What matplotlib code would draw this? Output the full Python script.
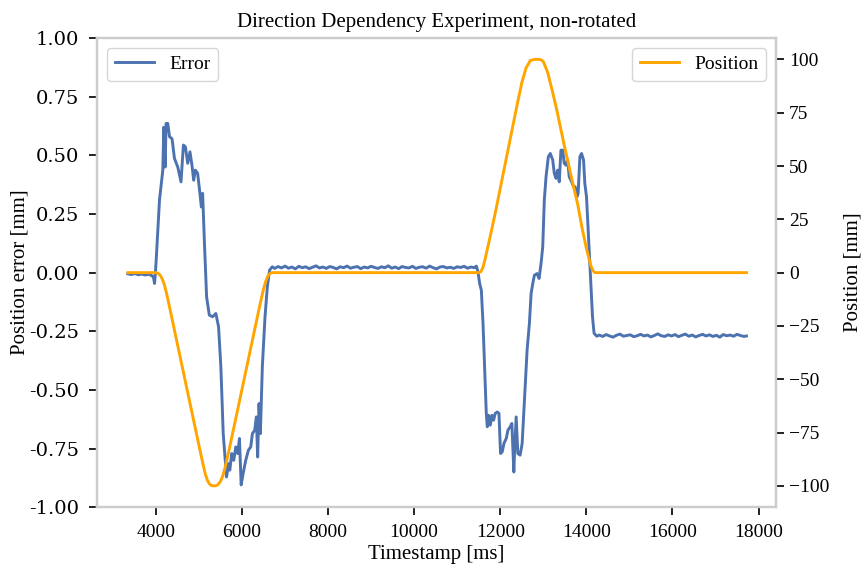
import matplotlib
matplotlib.use("Agg")
import matplotlib.pyplot as plt

# commanded position of the axis [mm]
pos_t = [3350, 3600, 3850, 4000, 4050, 4100, 4150, 4200, 4250, 4300,
         4400, 4500, 4600, 4700, 4800, 4900, 5000, 5100, 5150, 5200,
         5250, 5300, 5350, 5400, 5450, 5500, 5550, 5600, 5700, 5800,
         5900, 6000, 6100, 6200, 6300, 6400, 6450, 6500, 6550, 6600,
         6650, 6700, 7500, 9000, 10500, 11400, 11500, 11550, 11600, 11650,
         11700, 11800, 11900, 12000, 12100, 12200, 12300, 12400, 12500, 12600,
         12700, 12800, 12900, 12950, 13000, 13100, 13200, 13300, 13400, 13500,
         13600, 13700, 13800, 13900, 14000, 14100, 14150, 14200, 15500, 17720]
pos_mm = [0, 0, 0, 0, -0.3, -1.2, -3.0, -5.8, -9.8, -14.4,
          -23.9, -33.4, -42.9, -52.4, -61.9, -71.4, -80.9, -90.2, -94.5, -97.5,
          -99.2, -99.9, -100, -99.9, -99.3, -97.9, -95.6, -92.1, -83.3, -73.8,
          -64.3, -54.8, -45.3, -35.8, -26.3, -16.8, -12.2, -7.8, -4.2, -1.7,
          -0.4, 0, 0, 0, 0, 0, 0, 0.5, 2.5, 6.5,
          11.0, 20.0, 29.5, 39.5, 49.5, 59.5, 69.5, 79.5, 89.0, 96.0,
          99.5, 100, 100, 99.8, 99.0, 94.0, 86.0, 77.5, 68.0, 58.5,
          49.5, 40.5, 32.0, 21.0, 11.5, 3.5, 1.0, 0, 0, 0]

# measured position error [mm]
err_t = [3350, 3430, 3510, 3590, 3670, 3750, 3830, 3900, 3945, 3970,
         3990, 4007, 4085, 4162, 4185, 4215, 4238, 4277, 4317, 4377,
         4432, 4509, 4585, 4640, 4687, 4740, 4793, 4839, 4879, 4918,
         4971, 5024, 5057, 5087, 5126, 5179, 5242, 5318, 5394, 5457,
         5510, 5565, 5612, 5642, 5688, 5718, 5764, 5810, 5857, 5903,
         5942, 5982, 6028, 6088, 6150, 6204, 6243, 6296, 6335, 6365,
         6397, 6428, 6474, 6536, 6590, 6643, 6705,
         6760, 6840, 6920, 7000, 7080, 7160, 7240, 7320, 7400, 7480,
         7560, 7640, 7720, 7800, 7880, 7960, 8040, 8120, 8200, 8280,
         8360, 8440, 8520, 8600, 8680, 8760, 8840, 8920, 9000, 9080,
         9160, 9240, 9320, 9400, 9480, 9560, 9640, 9720, 9800, 9880,
         9960, 10040, 10120, 10200, 10280, 10360, 10440, 10520, 10600, 10680,
         10760, 10840, 10920, 11000, 11080, 11160, 11240, 11320, 11400,
         11445, 11484, 11521, 11561, 11600, 11637, 11676, 11699, 11729, 11769,
         11808, 11845, 11884, 11931, 11970, 12007, 12046, 12086, 12139, 12178,
         12231, 12270, 12316, 12331, 12370, 12409, 12462, 12509, 12562, 12624,
         12677, 12717, 12756, 12793, 12855, 12902, 12948, 12987, 13024, 13064,
         13117, 13163, 13219, 13256, 13295, 13334, 13371, 13410, 13450, 13487,
         13526, 13565, 13602, 13658, 13704, 13741, 13780, 13810, 13850, 13889,
         13935, 13965, 14004, 14027, 14065, 14104, 14143, 14180, 14243,
         14300, 14380, 14460, 14540, 14620, 14700, 14780, 14860, 14940, 15020,
         15100, 15180, 15260, 15340, 15420, 15500, 15580, 15660, 15740, 15820,
         15900, 15980, 16060, 16140, 16220, 16300, 16380, 16460, 16540, 16620,
         16700, 16780, 16860, 16940, 17020, 17100, 17180, 17260, 17340, 17420,
         17500, 17580, 17660, 17720]
err_mm = [-0.005, -0.008, -0.004, -0.009, -0.006, -0.010, -0.007, -0.012, -0.020, -0.046,
          0.000, 0.050, 0.310, 0.437, 0.620, 0.450, 0.636, 0.636, 0.580, 0.570,
          0.487, 0.450, 0.387, 0.544, 0.536, 0.466, 0.515, 0.458, 0.394, 0.437,
          0.423, 0.338, 0.280, 0.338, 0.139, -0.103, -0.181, -0.188, -0.174, -0.231,
          -0.400, -0.686, -0.800, -0.871, -0.814, -0.842, -0.771, -0.800, -0.743, -0.771,
          -0.707, -0.905, -0.856, -0.800, -0.757, -0.743, -0.686, -0.672, -0.615, -0.786,
          -0.558, -0.686, -0.400, -0.188, -0.060, 0.011, 0.025,
          0.018, 0.026, 0.020, 0.028, 0.019, 0.024, 0.016, 0.027, 0.021, 0.025,
          0.017, 0.023, 0.029, 0.020, 0.024, 0.018, 0.026, 0.022, 0.016, 0.025,
          0.021, 0.028, 0.019, 0.023, 0.026, 0.017, 0.024, 0.020, 0.027, 0.022,
          0.018, 0.025, 0.021, 0.029, 0.019, 0.024, 0.017, 0.026, 0.022, 0.020,
          0.027, 0.018, 0.023, 0.025, 0.019, 0.028, 0.021, 0.016, 0.024, 0.026,
          0.020, 0.023, 0.018, 0.025, 0.022, 0.027, 0.019, 0.024, 0.021,
          0.028, 0.003, -0.046, -0.075, -0.217, -0.400, -0.600, -0.657, -0.608, -0.650,
          -0.608, -0.629, -0.600, -0.594, -0.600, -0.771, -0.764, -0.728, -0.707, -0.672,
          -0.657, -0.643, -0.850, -0.771, -0.615, -0.771, -0.778, -0.728, -0.544, -0.330,
          -0.217, -0.089, -0.046, -0.011, -0.004, -0.025, 0.039, 0.110, 0.310, 0.409,
          0.494, 0.508, 0.480, 0.423, 0.402, 0.437, 0.387, 0.522, 0.522, 0.466,
          0.458, 0.480, 0.409, 0.387, 0.366, 0.366, 0.323, 0.338, 0.494, 0.508,
          0.480, 0.380, 0.323, 0.238, 0.096, -0.046, -0.188, -0.259, -0.271,
          -0.266, -0.272, -0.264, -0.270, -0.275, -0.267, -0.262, -0.271, -0.268, -0.265,
          -0.273, -0.269, -0.263, -0.270, -0.266, -0.274, -0.268, -0.261, -0.269, -0.272,
          -0.265, -0.270, -0.264, -0.273, -0.267, -0.262, -0.271, -0.266, -0.274, -0.268,
          -0.263, -0.270, -0.265, -0.272, -0.267, -0.275, -0.264, -0.269, -0.266, -0.271,
          -0.263, -0.268, -0.272, -0.270]

err_ticks = [-1.0, -0.75, -0.5, -0.25, 0.0, 0.25, 0.5, 0.75, 1.0]
pos_ticks = [-100, -75, -50, -25, 0, 25, 50, 75, 100]
time_ticks = [4000, 6000, 8000, 10000, 12000, 14000, 16000, 18000]

plt.rcParams["font.family"] = ["Liberation Serif", "DejaVu Serif"]
plt.rcParams["font.size"] = 15

SPINE = "#cccccc"

fig = plt.figure(figsize=(8.61, 5.68), dpi=100)
ax = fig.add_axes([0.113, 0.107, 0.788, 0.826])
ax2 = ax.twinx()

ax.plot(err_t, err_mm, color="#4c72b0", lw=2.1, label="Error")
ax2.plot(pos_t, pos_mm, color="orange", lw=2.1, label="Position")

ax.set_xlim(2640, 18400)
ax.set_ylim(-1.0, 1.0)
ax2.set_ylim(-110, 110)

ax.set_xticks(time_ticks)
ax.set_yticks(err_ticks)
# error axis labels are plain strings (hyphen minus), set in a wider serif
ax.set_yticklabels([f"{v:.2f}" for v in err_ticks], family="DejaVu Serif")
ax2.set_yticks(pos_ticks)

ax.set_title("Direction Dependency Experiment, non-rotated", fontsize=15, pad=8)
ax.set_xlabel("Timestamp [ms]", labelpad=3)
ax.set_ylabel("Position error [mm]", labelpad=0)
ax2.set_ylabel("Position [mm]", labelpad=10)

for a in (ax, ax2):
    for sp in a.spines.values():
        sp.set_color(SPINE)
        sp.set_linewidth(1.6)
    a.tick_params(length=6, width=1.4, color="#222222", labelsize=14)
ax.tick_params(axis="x", pad=6)
ax.tick_params(axis="y", pad=7)

ax.legend(loc="upper left", fancybox=True, edgecolor=SPINE, fontsize=14)
ax2.legend(loc="upper right", fancybox=True, edgecolor=SPINE, fontsize=14)

fig.savefig("out.png", dpi=100)
